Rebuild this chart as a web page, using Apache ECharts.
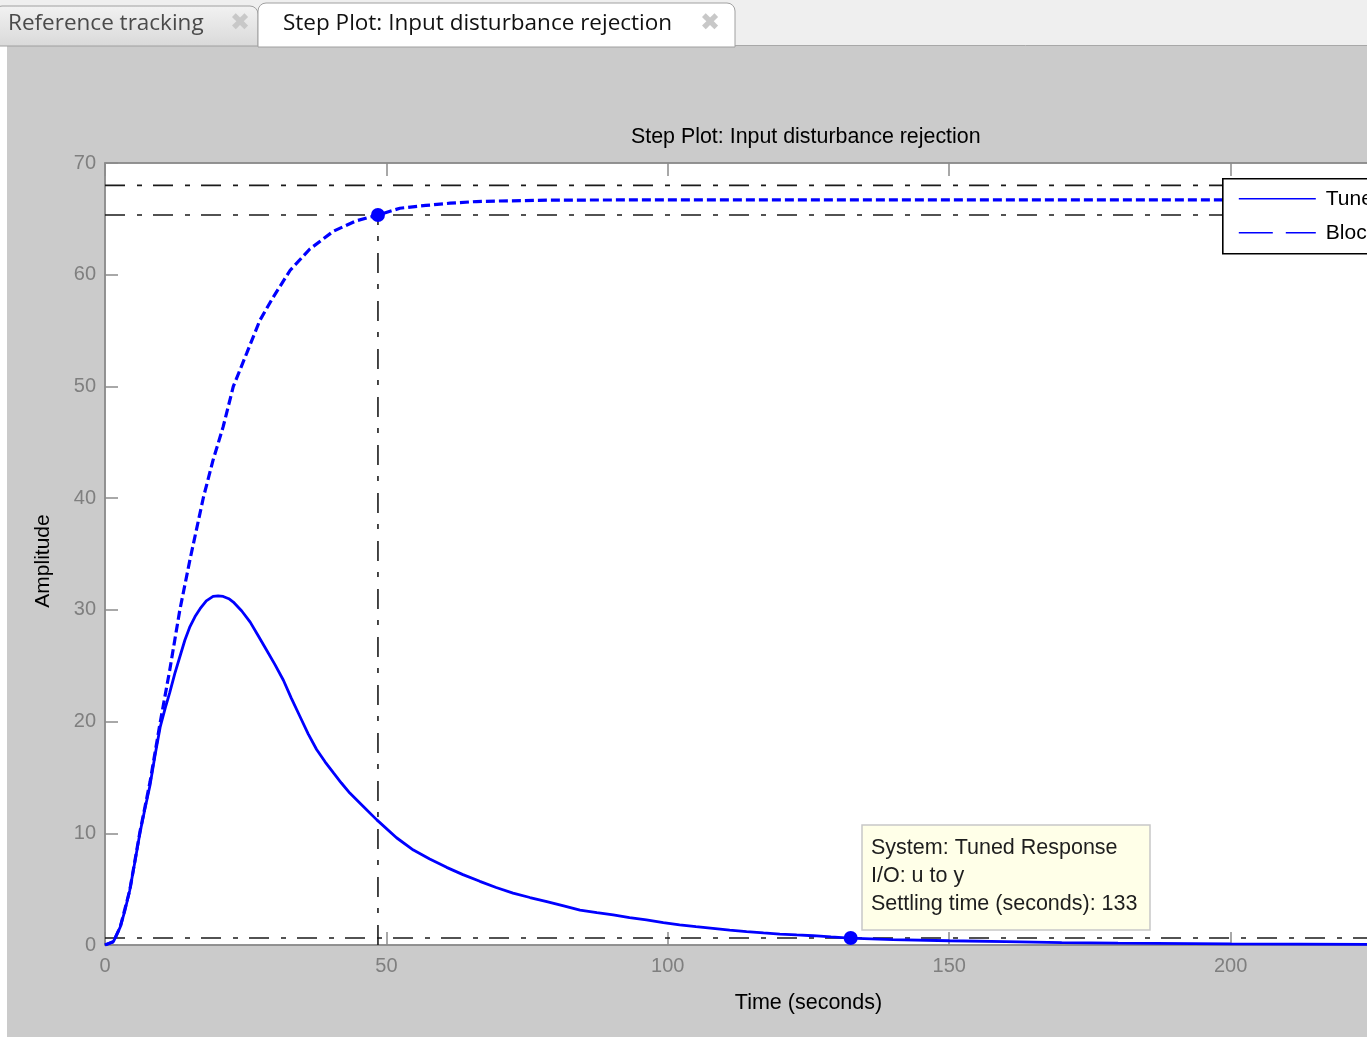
<!DOCTYPE html>
<html><head><meta charset="utf-8">
<script src="https://cdn.jsdelivr.net/npm/echarts@6/dist/echarts.min.js"></script>
<style>html,body{margin:0;padding:0;background:#fff;overflow:hidden}#c{width:1367px;height:1037px}</style>
</head><body><div id="c"></div>
<script>
// ---- data ----
const tunedTime = [0, 1.5, 2.7, 3.5, 4.4, 5.3, 6.2, 7.1, 8.0, 8.9, 9.8, 10.7, 11.5, 12.4, 13.3, 14.2, 15.1, 16.0, 16.9, 18.0, 19.2, 20.1, 21.0, 22.0, 22.8, 24.3, 25.8, 27.2, 28.7, 30.2, 31.7, 33.1, 34.6, 36.1, 37.6, 39.1, 40.6, 42.0, 43.5, 45.9, 48.3, 51.8, 54.8, 57.7, 60.7, 63.6, 66.6, 69.5, 72.5, 75.5, 78.5, 81.5, 84.4, 87.4, 90.3, 93.2, 96.2, 99.2, 102.1, 105, 108, 111, 114, 117, 119.9, 122.9, 125.8, 129, 132.3, 140, 150, 160, 170, 180, 200, 225, 250];
const tunedAmp = [0, 0.3, 1.6, 3.0, 4.9, 7.4, 10.0, 12.2, 14.3, 17.0, 19.5, 21.2, 22.6, 24.3, 25.8, 27.3, 28.5, 29.4, 30.1, 30.8, 31.2, 31.25, 31.2, 31.0, 30.7, 29.9, 28.9, 27.7, 26.4, 25.1, 23.7, 22.1, 20.5, 18.9, 17.5, 16.4, 15.4, 14.5, 13.6, 12.4, 11.2, 9.6, 8.5, 7.7, 6.95, 6.3, 5.7, 5.15, 4.65, 4.25, 3.88, 3.5, 3.13, 2.9, 2.69, 2.45, 2.24, 2.0, 1.8, 1.64, 1.49, 1.34, 1.2, 1.08, 0.98, 0.9, 0.83, 0.72, 0.62, 0.48, 0.38, 0.3, 0.22, 0.16, 0.1, 0.06, 0.04];
const blockTime = [0, 1.5, 2.7, 4.4, 6.2, 8.0, 9.8, 11.5, 13.3, 15.1, 17.5, 19.2, 21.0, 22.8, 25.2, 27.5, 29.9, 32.9, 36.4, 40.6, 44.5, 48.5, 52.4, 57.0, 61.3, 66, 70, 80, 100, 150, 200, 250];
const blockAmp = [0, 0.3, 1.6, 4.9, 10.1, 14.6, 19.9, 24.6, 30.0, 34.5, 40.1, 43.4, 46.4, 50.0, 53.0, 55.9, 58.0, 60.4, 62.3, 63.9, 64.8, 65.35, 65.95, 66.2, 66.4, 66.55, 66.6, 66.68, 66.7, 66.7, 66.7, 66.7];
const settleLevels = [68.0, 65.35, 0.62];
const blockSettle = [48.5, 65.35];
const tunedSettle = [132.5, 0.62];
const xRange = [0, 250];
const yRange = [0, 70];
const xStep = 50;
const yStep = 10;
const seriesNames = ['Tuned Response', 'Block Response'];
const datatipLines = ['System: Tuned Response', 'I/O: u to y', 'Settling time (seconds): 133'];
const tabLabels = ['Reference tracking', 'Step Plot: Input disturbance rejection'];
const chartTitle = 'Step Plot: Input disturbance rejection';
const xName = 'Time (seconds)';
const yName = 'Amplitude';

const zip = (a, b) => a.map((v, i) => [v, b[i]]);
const FONT = 'Liberation Sans';
const dashDot = [20, 12, 5, 11];
const axisGray = '#8c8c8c';

const chart = echarts.init(document.getElementById('c'), null, {renderer: 'canvas'});

const refSeries = settleLevels.map(v => ({
  type: 'line', silent: true, symbol: 'none', z: 1, animation: false,
  data: [[xRange[0], v], [xRange[1], v]],
  lineStyle: {color: '#1a1a1a', width: 1.6, type: dashDot}
}));
refSeries.push({
  type: 'line', silent: true, symbol: 'none', z: 1, animation: false,
  data: [[blockSettle[0], 0], [blockSettle[0], blockSettle[1]]],
  lineStyle: {color: '#1a1a1a', width: 1.6, type: dashDot}
});

const option = {
  backgroundColor: '#cbcbcb',
  animation: false,
  title: {
    text: chartTitle, left: 631, top: 127, padding: 0,
    textStyle: {fontFamily: FONT, fontSize: 21.4, fontWeight: 'normal', color: '#000'}
  },
  grid: {left: 105, top: 163, width: 1407, bottom: 92, show: true, backgroundColor: '#fff',
    borderColor: axisGray, borderWidth: 1.5, containLabel: false, outerBoundsMode: 'none'},
  xAxis: [{
    type: 'value', min: xRange[0], max: xRange[1], interval: xStep, position: 'bottom',
    name: xName, nameLocation: 'middle', nameGap: 47,
    nameTextStyle: {fontFamily: FONT, fontSize: 21.5, color: '#000'},
    axisLine: {show: true, lineStyle: {color: axisGray, width: 1.5}},
    axisTick: {show: true, inside: true, length: 13, lineStyle: {color: axisGray, width: 1.5}},
    axisLabel: {color: '#7f7f7f', fontFamily: FONT, fontSize: 20, margin: 11},
    splitLine: {show: false}
  }, {
    type: 'value', min: xRange[0], max: xRange[1], interval: xStep, position: 'top',
    axisLine: {show: true, lineStyle: {color: axisGray, width: 1.5}},
    axisTick: {show: true, inside: true, length: 13, lineStyle: {color: axisGray, width: 1.5}},
    axisLabel: {show: false}, splitLine: {show: false}
  }],
  yAxis: [{
    type: 'value', min: yRange[0], max: yRange[1], interval: yStep, position: 'left',
    name: yName, nameLocation: 'middle', nameGap: 51,
    nameTextStyle: {fontFamily: FONT, fontSize: 21, color: '#000', padding: [0, 14, 0, 0]},
    axisLine: {show: true, lineStyle: {color: axisGray, width: 1.5}},
    axisTick: {show: true, inside: true, length: 13, lineStyle: {color: axisGray, width: 1.5}},
    axisLabel: {color: '#7f7f7f', fontFamily: FONT, fontSize: 20, margin: 9},
    splitLine: {show: false}
  }],
  series: refSeries.concat([
    {name: seriesNames[0], type: 'line', symbol: 'none', z: 3, data: zip(tunedTime, tunedAmp),
      lineStyle: {color: '#0000ff', width: 2.8}},
    {name: seriesNames[1], type: 'line', symbol: 'none', z: 3, data: zip(blockTime, blockAmp),
      lineStyle: {color: '#0000ff', width: 3.2, type: [9, 4]}},
    {type: 'scatter', z: 4, symbol: 'circle', symbolSize: 14, itemStyle: {color: '#0000ff', opacity: 1},
      data: [blockSettle, tunedSettle]}
  ]),
  graphic: [
    // window chrome
    {type: 'rect', z: 0, shape: {x: 0, y: 0, width: 1367, height: 46}, style: {fill: '#efefef'}},
    {type: 'rect', z: 0, shape: {x: 0, y: 46, width: 7, height: 991}, style: {fill: '#ffffff'}},
    {type: 'line', z: 1, shape: {x1: 0, y1: 45.5, x2: 1367, y2: 45.5}, style: {stroke: '#a8a8a8', lineWidth: 1}},
    {type: 'rect', z: 1, shape: {x: -4, y: 6, width: 262, height: 40, r: [6, 8, 0, 0]},
      style: {fill: new echarts.graphic.LinearGradient(0, 0, 0, 1, [{offset: 0, color: '#f2f2f2'}, {offset: 1, color: '#d9d9d9'}]), stroke: '#a0a0a0', lineWidth: 1}},
    {type: 'rect', z: 2, shape: {x: 258, y: 3, width: 477, height: 44, r: [8, 8, 0, 0]},
      style: {fill: '#ffffff', stroke: '#a0a0a0', lineWidth: 1}},
    {type: 'text', z: 3, x: 8, y: 24, style: {text: tabLabels[0], font: '22.5px "Open Sans"', fill: '#4a4a4a', verticalAlign: 'middle'}},
    {type: 'text', z: 3, x: 283, y: 24, style: {text: tabLabels[1], font: '22.5px "Open Sans"', fill: '#111', verticalAlign: 'middle'}},
    {type: 'text', z: 3, x: 240, y: 24, style: {text: '\u2716', font: '24px "DejaVu Sans"', fill: '#c8c8c8', align: 'center', verticalAlign: 'middle'}},
    {type: 'text', z: 3, x: 710, y: 24, style: {text: '\u2716', font: '24px "DejaVu Sans"', fill: '#c8c8c8', align: 'center', verticalAlign: 'middle'}},
    // legend box
    {type: 'group', left: 1222, top: 178, z: 20, children: [
      {type: 'rect', z: 20, shape: {x: 0, y: 0, width: 230, height: 75}, style: {fill: '#fff', stroke: '#000', lineWidth: 1.6}},
      {type: 'line', z: 21, shape: {x1: 16, y1: 20, x2: 93, y2: 20}, style: {stroke: '#0000ff', lineWidth: 1.5}},
      {type: 'line', z: 21, shape: {x1: 16, y1: 54, x2: 93, y2: 54}, style: {stroke: '#0000ff', lineWidth: 1.5, lineDash: [34, 13]}},
      {type: 'text', z: 21, x: 103, y: 20, style: {text: seriesNames[0], font: '21px "Liberation Sans"', fill: '#000', verticalAlign: 'middle'}},
      {type: 'text', z: 21, x: 103, y: 54, style: {text: seriesNames[1], font: '21px "Liberation Sans"', fill: '#000', verticalAlign: 'middle'}}
    ]},
    // data tip
    {type: 'rect', z: 20, shape: {x: 862, y: 825, width: 288, height: 105}, style: {fill: '#ffffe8', stroke: '#c8c8c8', lineWidth: 1.5}},
    {type: 'text', z: 21, x: 871, y: 848, style: {text: datatipLines[0], font: '21.5px "Liberation Sans"', fill: '#1e1e1e', verticalAlign: 'middle'}},
    {type: 'text', z: 21, x: 871, y: 876, style: {text: datatipLines[1], font: '21.5px "Liberation Sans"', fill: '#1e1e1e', verticalAlign: 'middle'}},
    {type: 'text', z: 21, x: 871, y: 904, style: {text: datatipLines[2], font: '21.5px "Liberation Sans"', fill: '#1e1e1e', verticalAlign: 'middle'}}
  ]
};
chart.setOption(option);
</script></body></html>
